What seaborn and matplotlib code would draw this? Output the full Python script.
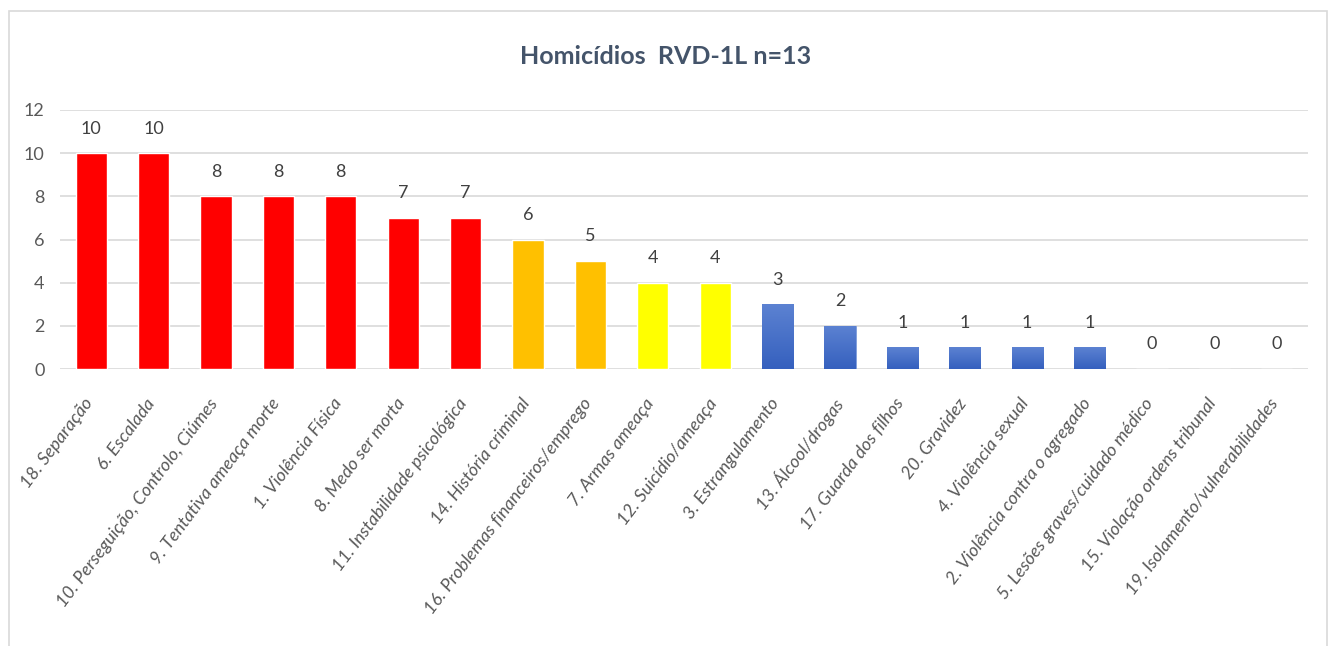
import matplotlib
matplotlib.use("Agg")
import matplotlib.pyplot as plt
import matplotlib.transforms as mtransforms
import numpy as np
import pandas as pd
import seaborn as sns
from matplotlib.patches import Rectangle
from matplotlib.colors import LinearSegmentedColormap

categories = [
    "18. Separação", "6. Escalada", "10. Perseguição, Controlo, Ciúmes",
    "9. Tentativa ameaça morte", "1. Violência Física", "8. Medo ser morta",
    "11. Instabilidade psicológica", "14. História criminal",
    "16. Problemas financeiros/emprego", "7. Armas ameaça", "12. Suicídio/ameaça",
    "3. Estrangulamento", "13. Álcool/drogas", "17. Guarda dos filhos",
    "20. Gravidez", "4. Violência sexual", "2. Violência contra o agregado",
    "5. Lesões graves/cuidado médico", "15. Violação ordens tribunal",
    "19. Isolamento/vulnerabilidades",
]
values = [10, 10, 8, 8, 8, 7, 7, 6, 5, 4, 4, 3, 2, 1, 1, 1, 1, 0, 0, 0]
groups = ["red"] * 7 + ["orange"] * 2 + ["yellow"] * 2 + ["blue"] * 9
group_colors = {"red": "#FF0000", "orange": "#FFC000", "yellow": "#FFFF00", "blue": "#4472C4"}
title = "Homicídios  RVD-1L n=13"
yticks = [0, 2, 4, 6, 8, 10, 12]

sns.set_theme(style="white")
plt.rcParams["font.family"] = ["Lato", "DejaVu Sans"]

df = pd.DataFrame({"cat": categories, "val": values, "grp": groups})

fig = plt.figure(figsize=(13.32, 6.46), dpi=100)
ax = fig.add_axes([60 / 1332, 1 - 369 / 646, (1308 - 60) / 1332, (369 - 110) / 646])

palette = [group_colors[g] for g in groups]
sns.barplot(data=df, x="cat", y="val", hue="cat", palette=palette, legend=False,
            width=0.5, ax=ax, saturation=1)

# gradient for blue bars
grad = np.linspace(0, 1, 256).reshape(-1, 1)
cmap = LinearSegmentedColormap.from_list("bl", ["#3560BE", "#5C82D2"])
for patch, g in zip(ax.patches, groups):
    if g == "blue" and patch.get_height() > 0:
        x0, w, h = patch.get_x(), patch.get_width(), patch.get_height()
        im = ax.imshow(grad, extent=[x0, x0 + w, 0, h], origin="lower", cmap=cmap,
                       aspect="auto", zorder=patch.get_zorder())
        im.set_clip_path(patch)
        patch.set_facecolor("none")
        patch.set_edgecolor("#6D8FD6")
        patch.set_linewidth(0.6)

for c in ax.containers:
    ax.bar_label(c, padding=12, fontsize=13, color="#404040")

ax.set_xlim(-0.5, len(categories) - 0.5)
ax.set_ylim(0, 12)
ax.set_yticks(yticks)
ax.set_yticklabels([str(v) for v in yticks], fontsize=13, color="#595959")
ax.yaxis.grid(True, color="#D9D9D9", linewidth=1.2)
ax.set_axisbelow(True)
for s in ax.spines.values():
    s.set_visible(False)
ax.tick_params(axis="y", length=0, pad=11)
ax.tick_params(axis="x", length=0, pad=19)
ax.set_xticks(range(len(categories)))
ax.set_xticklabels(categories, rotation=53, ha="right", rotation_mode="anchor",
                   fontsize=13, style="italic", color="#595959")
shift = mtransforms.ScaledTranslation(-8 / 100, 0, fig.dpi_scale_trans)
for lbl in ax.get_xticklabels():
    lbl.set_transform(lbl.get_transform() + shift)
ax.set_xlabel("")
ax.set_ylabel("")

fig.text(666 / 1332, 1 - 57 / 646, title, ha="center", va="center",
         fontsize=18, fontweight="bold", color="#44546A")

fig.patches.append(Rectangle((9 / 1332, -0.05), (1327 - 9) / 1332, 1.05 - 11 / 646,
                             transform=fig.transFigure, fill=False,
                             edgecolor="#D9D9D9", linewidth=1.2))

fig.savefig("out.png", dpi=100, facecolor="white")
